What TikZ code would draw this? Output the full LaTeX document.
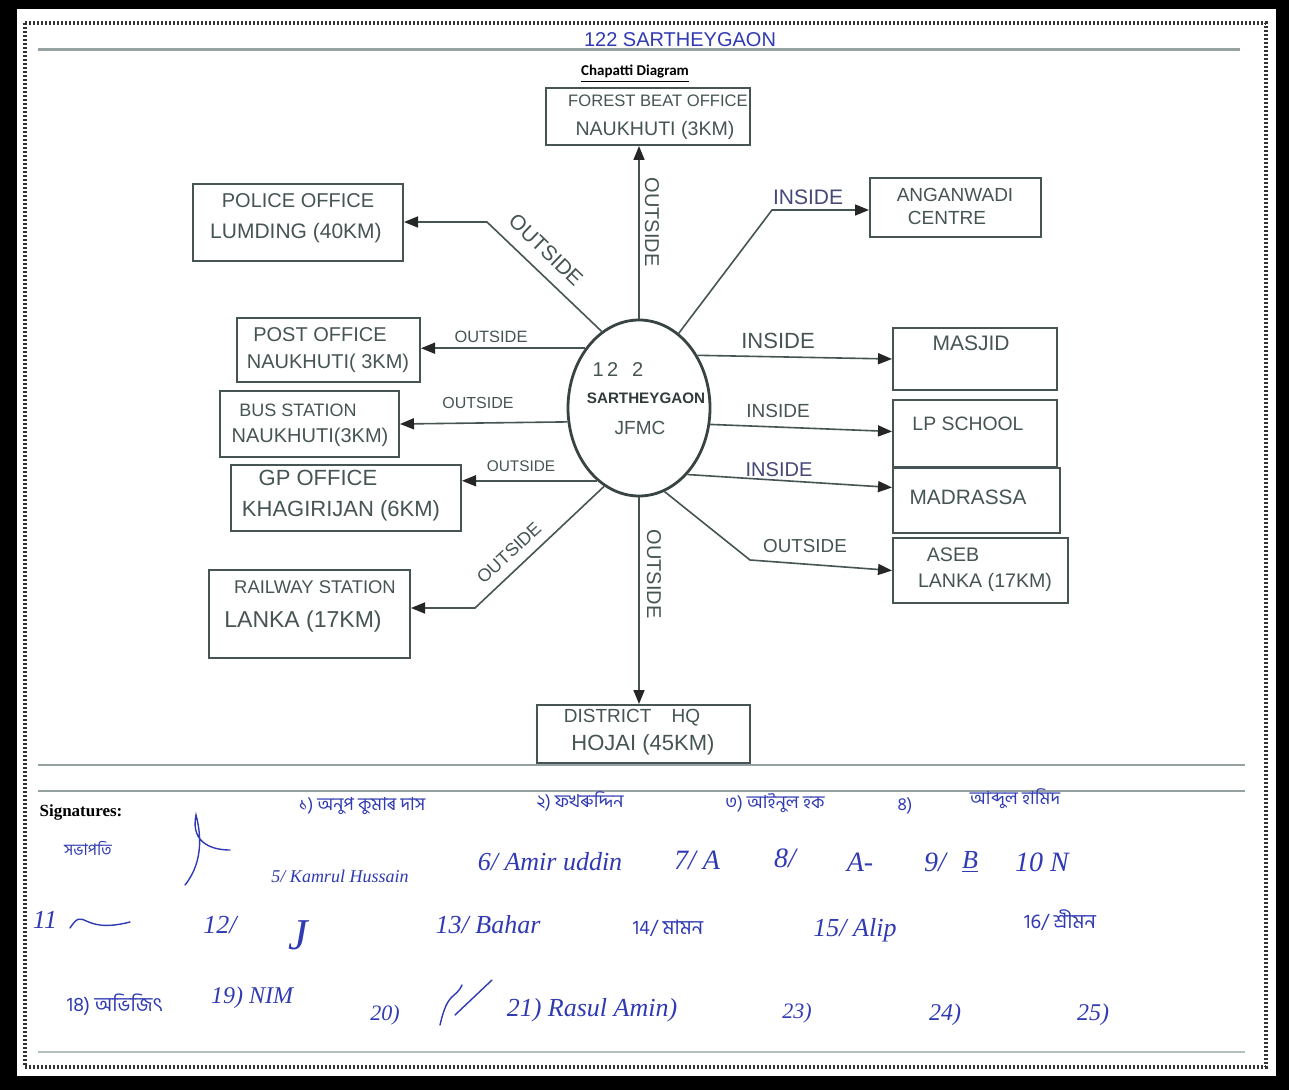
\documentclass[tikz,border=0pt]{standalone}
\usepackage{fontspec}
\setmainfont{Liberation Sans}
\newfontfamily\sigserif{Liberation Serif}
\newfontfamily\carl{Carlito}
\newfontfamily\beng[Script=Bengali]{Hind Siliguri}
\usetikzlibrary{arrows.meta,shapes.geometric,fit}
\definecolor{pencil}{RGB}{70,84,84}
\definecolor{bluepencil}{RGB}{70,72,120}
\definecolor{ink}{RGB}{48,58,178}
\definecolor{rulecol}{RGB}{150,162,162}
\newcommand\fs[1]{\fontsize{#1}{#1}\selectfont}
\begin{document}
\begin{tikzpicture}[x=0.5pt,y=-0.5pt,
  box/.style={draw=pencil, line width=1pt, inner sep=0pt},
  lbl/.style={text=pencil, inner sep=0pt},
  conn/.style={draw=pencil, line width=0.8pt},
  arr/.style={conn, -{Triangle[length=7pt,width=5.5pt,color=black!85]}},
  sig/.style={text=ink, inner sep=0pt, font=\sigserif\itshape\fs{12}},
  bsig/.style={text=ink, inner sep=0pt, font=\beng\fs{9}},
  scrib/.style={draw=ink, line width=0.7pt, line cap=round}]
\useasboundingbox (0,0) rectangle (1289,1090);
% frame
\fill[black] (0,0) rectangle (1289,1090);
\fill[white] (17,9) rectangle (1276,1076);
\draw[black!80, line width=2pt, dash pattern=on 1pt off 1pt] (25,23) rectangle (1266,1067);
\draw[rulecol, line width=1.5pt] (38,50) -- (1240,50);
\draw[rulecol, line width=0.8pt] (38,765) -- (1245,765);
\draw[rulecol, line width=1.2pt] (38,791) -- (1245,791);
\draw[rulecol!70, line width=1.2pt] (38,1052) -- (1245,1052);

% titles
\node[text=ink, inner sep=0pt, font=\fs{10}] (title) at (680,40) {122 SARTHEYGAON};
\node[inner sep=0pt, font=\carl\bfseries\fs{7.5}] (chap) at (635,74) {\underline{Chapatti Diagram}};

% centre
\node[draw=pencil!80!black, line width=1.4pt, ellipse, minimum width=71pt, minimum height=88pt, inner sep=0pt] (c) at (639,408) {};
\node[lbl, font=\fs{10}] (c1) at (618,370) {1\,2\hspace{7pt}2};
\node[lbl, text=pencil!70!black, font=\bfseries\fs{7.6}] (c2) at (646,398) {SARTHEYGAON};
\node[lbl, font=\fs{9.5}] (c3) at (640,428) {JFMC};

% boxes
\node[box, fit={(546,88) (750,145)}] (forest) {};
\node[box, fit={(193,184) (403,261)}] (police) {};
\node[box, fit={(870,178) (1041,237)}] (angan) {};
\node[box, fit={(237,318) (420,382)}] (post) {};
\node[box, fit={(893,328) (1057,390)}] (masjid) {};
\node[box, fit={(220,391) (399,457)}] (bus) {};
\node[box, fit={(893,400) (1057,467)}] (lp) {};
\node[box, fit={(231,465) (461,531)}] (gp) {};
\node[box, fit={(893,468) (1060,533)}] (madrassa) {};
\node[box, fit={(893,538) (1068,603)}] (aseb) {};
\node[box, fit={(209,570) (410,658)}] (rail) {};
\node[box, fit={(537,705) (750,763)}] (district) {};

% box texts
\node[lbl, font=\fs{8.3}] (forestA) at (658,101) {FOREST BEAT OFFICE};
\node[lbl, font=\fs{9.8}] (forestB) at (655,130) {NAUKHUTI (3KM)};
\node[lbl, font=\fs{10}] (policeA) at (298,201) {POLICE OFFICE};
\node[lbl, font=\fs{10.5}] (policeB) at (296,233) {LUMDING (40KM)};
\node[lbl, font=\fs{9.5}] (anganA) at (955,195) {ANGANWADI};
\node[lbl, font=\fs{9.5}] (anganB) at (947,218) {CENTRE};
\node[lbl, font=\fs{10}] (postA) at (320,335) {POST OFFICE};
\node[lbl, font=\fs{10}] (postB) at (328,363) {NAUKHUTI( 3KM)};
\node[lbl, font=\fs{9}] (busA) at (298,410) {BUS STATION};
\node[lbl, font=\fs{10}] (busB) at (310,437) {NAUKHUTI(3KM)};
\node[lbl, font=\fs{11}] (gpA) at (318,478) {GP OFFICE};
\node[lbl, font=\fs{11}] (gpB) at (341,511) {KHAGIRIJAN (6KM)};
\node[lbl, font=\fs{9.2}] (railA) at (315,587) {RAILWAY STATION};
\node[lbl, font=\fs{11.5}] (railB) at (303,622) {LANKA (17KM)};
\node[lbl, font=\fs{9.5}] (districtA) at (632,718) {DISTRICT\hspace{10pt}HQ};
\node[lbl, font=\fs{11}] (districtB) at (643,745) {HOJAI (45KM)};
\node[lbl, font=\fs{10.5}] (masjidA) at (971,343) {MASJID};
\node[lbl, font=\fs{9.7}] (lpA) at (968,424) {LP SCHOOL};
\node[lbl, font=\fs{10.4}] (madrassaA) at (968,497) {MADRASSA};
\node[lbl, font=\fs{9.8}] (asebA) at (953,555) {ASEB};
\node[lbl, font=\fs{9.8}] (asebB) at (985,582) {LANKA (17KM)};

% bends
\coordinate (pb) at (487,222);
\coordinate (ab) at (772,210);
\coordinate (rb) at (475,608);
\coordinate (sb) at (750,560);

% connectors
\draw[arr] (c.north) -- (c.north |- forest.south);
\draw[arr] (c.south) -- (c.south |- district.north);
\draw[arr] (c.116.8) -- (pb) -- (pb -| police.east);
\draw[arr] (c.62.6) -- (ab) -- (ab -| angan.west);
\draw[arr] (c.132.6) -- (c.132.6 -| post.east);
\draw[arr] (c.191.2) -- (bus.east);
\draw[arr] (c.240.3) -- (c.240.3 -| gp.east);
\draw[arr] (c.246.1) -- (rb) -- (rb -| rail.east);
\draw[arr] (c.42.6) -- (masjid.west);
\draw[arr] (c.347.6) -- ([yshift=1pt]lp.west);
\draw[arr] (c.306.4) -- ([yshift=6.5pt]madrassa.west);
\draw[arr] (c.287.8) -- (sb) -- (aseb.west);

% connector labels
\node[lbl, font=\fs{10}, rotate=-90] (l1) at (652,222) {OUTSIDE};
\node[lbl, font=\fs{10}, rotate=-90] (l2) at (654,574) {OUTSIDE};
\node[lbl, font=\fs{10.5}, rotate=-44] (l3) at (546,250) {OUTSIDE};
\node[lbl, font=\fs{8.2}] (l4) at (491,337) {OUTSIDE};
\node[lbl, font=\fs{8}] (l5) at (478,403) {OUTSIDE};
\node[lbl, font=\fs{7.7}] (l6) at (521,466) {OUTSIDE};
\node[lbl, font=\fs{9}, rotate=43] (l7) at (509,553) {OUTSIDE};
\node[lbl, text=bluepencil, font=\fs{10.5}] (l8) at (808,197) {INSIDE};
\node[lbl, font=\fs{11}] (l9) at (778,341) {INSIDE};
\node[lbl, font=\fs{9.5}] (l10) at (778,411) {INSIDE};
\node[lbl, text=bluepencil, font=\fs{10}] (l11) at (779,470) {INSIDE};
\node[lbl, font=\fs{9.4}] (l12) at (805,546) {OUTSIDE};

% signatures
\node[inner sep=0pt, font=\sigserif\bfseries\fs{8.5}] (sigt) at (81,812) {Signatures:};
\node[bsig, font=\beng\fs{8}] (s0) at (88,848) {সভাপতি};
\draw[scrib] (185,885) .. controls (205,860) and (200,830) .. (196,815) .. controls (190,845) and (215,850) .. (230,850);
\node[bsig] (s1) at (362,806) {১) অনুপ কুমাৰ দাস};
\node[bsig] (s2) at (580,801) {২) ফখৰুদ্দিন};
\node[bsig] (s3) at (775,803) {৩) আইনুল হক};
\node[bsig] (s4) at (905,806) {৪)};
\node[bsig] (s4b) at (1015,799) {আব্দুল হামিদ};
\node[sig, font=\sigserif\itshape\fs{9}] (s5) at (340,876) {5/ Kamrul Hussain};
\node[sig, font=\sigserif\itshape\fs{13}] (s6) at (550,862) {6/ Amir uddin};
\node[sig, font=\sigserif\itshape\fs{14}] (s7) at (697,860) {7/ A};
\node[sig, font=\sigserif\itshape\fs{14}] (s8) at (785,858) {8/};
\node[sig, font=\sigserif\itshape\fs{14}] (s8b) at (860,862) {A-};
\node[sig, font=\sigserif\itshape\fs{14}] (s9) at (935,862) {9/};
\node[sig, font=\sigserif\itshape\fs{13}] (s9b) at (970,862) {\underline{B}};
\node[sig, font=\sigserif\itshape\fs{14}] (s10) at (1042,862) {10 N};
\node[sig, font=\sigserif\itshape\fs{13}] (s11) at (45,920) {11};
\draw[scrib] (70,928) .. controls (85,905) and (80,935) .. (130,922);
\node[sig, font=\sigserif\itshape\fs{13}] (s12) at (220,925) {12/};
\node[sig, font=\sigserif\itshape\fs{22}] (s12b) at (298,935) {J};
\node[sig, font=\sigserif\itshape\fs{13}] (s13) at (488,925) {13/ Bahar};
\node[bsig, font=\beng\fs{10}] (s14) at (668,928) {14/ মামন};
\node[sig, font=\sigserif\itshape\fs{13}] (s15) at (855,930) {15/ Alip};
\node[bsig, font=\beng\fs{10}] (s16) at (1060,920) {16/ শ্ৰীমন};
\node[bsig, font=\beng\fs{10}] (s18) at (115,1005) {18) অভিজিৎ};
\node[sig, font=\sigserif\itshape\fs{12}] (s19) at (252,998) {19) NIM};
\node[sig, font=\sigserif\itshape\fs{11}] (s20) at (385,1015) {20)};
\draw[scrib] (440,1025) .. controls (448,990) and (455,1000) .. (462,985) (455,1015) -- (492,980);
\node[sig, font=\sigserif\itshape\fs{13}] (s21) at (592,1010) {21) Rasul Amin)};
\node[sig, font=\sigserif\itshape\fs{11}] (s23) at (797,1013) {23)};
\node[sig, font=\sigserif\itshape\fs{12}] (s24) at (945,1015) {24)};
\node[sig, font=\sigserif\itshape\fs{12}] (s25) at (1093,1015) {25)};
\end{tikzpicture}
\end{document}
